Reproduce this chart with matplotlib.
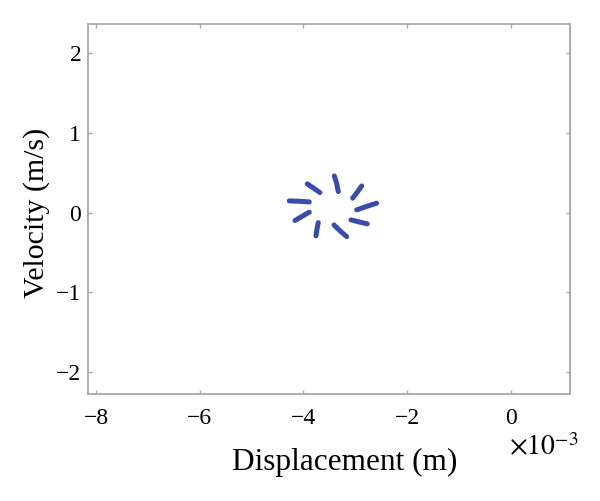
import matplotlib
matplotlib.use("Agg")
import matplotlib.pyplot as plt
from matplotlib.ticker import FuncFormatter

plt.rcParams['font.family'] = ['Liberation Serif', 'DejaVu Serif']
plt.rcParams['mathtext.fontset'] = 'stix'

# Each dash: (x in metres, y in m/s) points
dash_x = [
    [-3.405e-3, -3.360e-3, -3.328e-3],
    [-3.926e-3, -3.800e-3, -3.681e-3],
    [-4.273e-3, -4.080e-3, -3.887e-3],
    [-4.163e-3, -4.020e-3, -3.887e-3],
    [-3.758e-3, -3.740e-3, -3.714e-3],
    [-3.411e-3, -3.290e-3, -3.166e-3],
    [-3.083e-3, -2.925e-3, -2.769e-3],
    [-2.973e-3, -2.780e-3, -2.588e-3],
    [-3.051e-3, -2.960e-3, -2.877e-3],
]
dash_y = [
    [0.461, 0.369, 0.264],
    [0.361, 0.305, 0.251],
    [0.147, 0.142, 0.134],
    [-0.100, -0.045, 0.005],
    [-0.293, -0.210, -0.126],
    [-0.155, -0.232, -0.302],
    [-0.092, -0.118, -0.142],
    [0.034, 0.078, 0.118],
    [0.181, 0.258, 0.335],
]
x_ticks = [-8e-3, -6e-3, -4e-3, -2e-3, 0.0]
y_ticks = [-2, -1, 0, 1, 2]

fig = plt.figure(figsize=(6.0, 5.01), dpi=100)
ax = fig.add_axes([0.147, 0.2136, 0.803, 0.7385])

for xs, ys in zip(dash_x, dash_y):
    ax.plot(xs, ys, color='#3a4ca8', lw=3.6, solid_capstyle='round')

ax.set_xlim(-8.15e-3, 1.14e-3)
ax.set_ylim(-2.28, 2.37)
ax.set_xticks(x_ticks)
ax.set_yticks(y_ticks)
ax.xaxis.set_major_formatter(FuncFormatter(lambda v, p: f"{v*1e3:.0f}".replace('-', '\u2212')))
ax.yaxis.set_major_formatter(FuncFormatter(lambda v, p: f"{v:.0f}".replace('-', '\u2212')))

for s in ax.spines.values():
    s.set_color('#a8a8a8')
    s.set_linewidth(1.3)
ax.tick_params(direction='in', length=3, width=1, color='#a8a8a8',
               top=True, right=True, labelsize=17, labelcolor='black')
ax.tick_params(axis='x', pad=10)
ax.tick_params(axis='y', pad=5)

ax.set_xlabel('Displacement (m)', fontsize=22.5)
ax.xaxis.set_label_coords(0.532, -0.145)
ax.set_ylabel('Velocity (m/s)', fontsize=21.5)
ax.yaxis.set_label_coords(-0.08, 0.49)

ax.text(1.017, -0.166, r'$\times10^{-3}$', transform=ax.transAxes,
        ha='right', va='baseline', fontsize=20)

fig.savefig('out.png', dpi=100)
